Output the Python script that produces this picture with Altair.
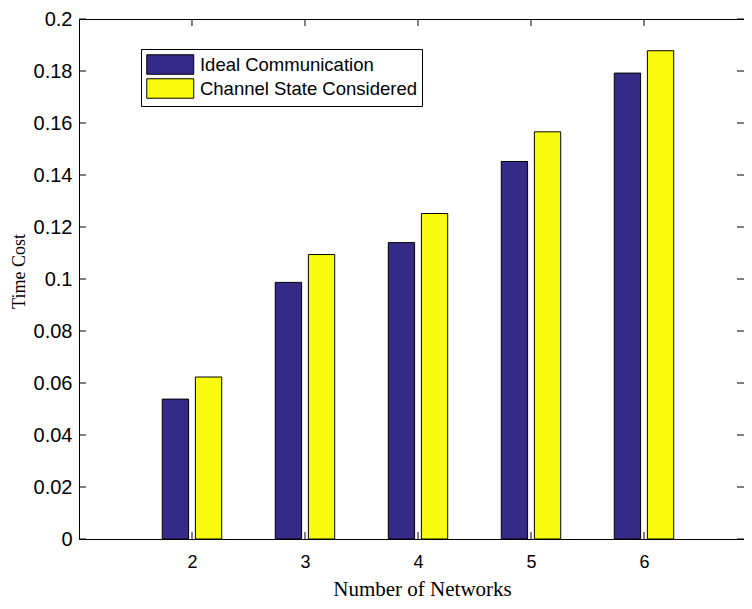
import altair as alt
import pandas as pd

networks = [2, 3, 4, 5, 6]
ideal = [0.0538, 0.0987, 0.1140, 0.1452, 0.1792]
channel = [0.0623, 0.1094, 0.1252, 0.1566, 0.1878]
series_names = ["Ideal Communication", "Channel State Considered"]
series_colors = ["#352A87", "#F9FB0E"]
y_ticks = [0, 0.02, 0.04, 0.06, 0.08, 0.1, 0.12, 0.14, 0.16, 0.18, 0.2]

rows = []
for n, a, b in zip(networks, ideal, channel):
    rows.append({"n": n, "series": series_names[0], "idx": 0, "v": a})
    rows.append({"n": n, "series": series_names[1], "idx": 1, "v": b})
df = pd.DataFrame(rows)

W, H = 665, 520
xscale = alt.Scale(domain=[1, 6.885], nice=False, zero=False)
yscale = alt.Scale(domain=[0, 0.2], nice=False)

xaxis = alt.Axis(values=networks, ticks=False, domain=False, grid=False,
                 labelFont="Liberation Sans", labelFontSize=18, labelColor="black",
                 labelPadding=14, title="Number of Networks",
                 titleFont="Liberation Serif", titleFontSize=21, titleFontWeight="normal",
                 titleColor="black", titleX=343, titleY=56, titleBaseline="alphabetic",
                 titleAlign="center")
yaxis = alt.Axis(values=y_ticks, ticks=False, domain=False, grid=False, format="~g",
                 labelFont="Liberation Sans", labelFontSize=20, labelColor="black",
                 labelPadding=7, title="Time Cost",
                 titleFont="Liberation Serif", titleFontSize=18, titleFontWeight="normal",
                 titleColor="black", titleX=-55, titleY=252, titleBaseline="alphabetic",
                 titleAlign="center", titleAngle=270)

bars = alt.Chart(df).transform_calculate(
    x0="datum.n + (datum.idx == 0 ? -0.263 : 0.03)",
    x1="datum.n + (datum.idx == 0 ? -0.03 : 0.263)",
).mark_rect(stroke="black", strokeWidth=1, opacity=1).encode(
    x=alt.X("x0:Q", scale=xscale, axis=xaxis),
    x2="x1:Q",
    y=alt.Y("v:Q", scale=yscale, axis=yaxis),
    y2=alt.datum(0),
    fill=alt.Fill("series:N", scale=alt.Scale(domain=series_names, range=series_colors),
                  sort=series_names,
                  legend=alt.Legend(title=None, orient="none", legendX=62, legendY=30,
                                    padding=5, strokeColor="black", fillColor="white",
                                    symbolType="M-2.41,-1H2.41V1H-2.41Z", symbolSize=380,
                                    symbolOffset=13.75,
                                    symbolStrokeColor="black", symbolStrokeWidth=1,
                                    symbolOpacity=1, labelFont="Liberation Sans",
                                    labelFontSize=18.5, labelColor="black", labelOffset=19.2,
                                    rowPadding=-1, labelLimit=400)),
)

ytick_df = pd.DataFrame({"t": y_ticks})
xtick_df = pd.DataFrame({"t": networks})

left_ticks = alt.Chart(ytick_df).mark_rule(color="black", strokeWidth=1).encode(
    y=alt.Y("t:Q", scale=yscale, axis=yaxis), x=alt.value(0), x2=alt.value(7))
right_ticks = alt.Chart(ytick_df).mark_rule(color="black", strokeWidth=1).encode(
    y=alt.Y("t:Q", scale=yscale, axis=yaxis), x=alt.value(W - 7), x2=alt.value(W))
bottom_ticks = alt.Chart(xtick_df).mark_rule(color="black", strokeWidth=1).encode(
    x=alt.X("t:Q", scale=xscale, axis=xaxis), y=alt.value(H - 7), y2=alt.value(H))
top_ticks = alt.Chart(xtick_df).mark_rule(color="black", strokeWidth=1).encode(
    x=alt.X("t:Q", scale=xscale, axis=xaxis), y=alt.value(0), y2=alt.value(7))

chart = alt.layer(bars, left_ticks, right_ticks, bottom_ticks, top_ticks).properties(
    width=W, height=H,
    autosize=alt.AutoSizeParams(type="none"),
    padding={"left": 71, "top": 11, "right": 0, "bottom": 62},
    background="white",
).configure_view(stroke="black", strokeWidth=1)

chart.save("out.html", embed_options={"renderer": "svg", "actions": False})
